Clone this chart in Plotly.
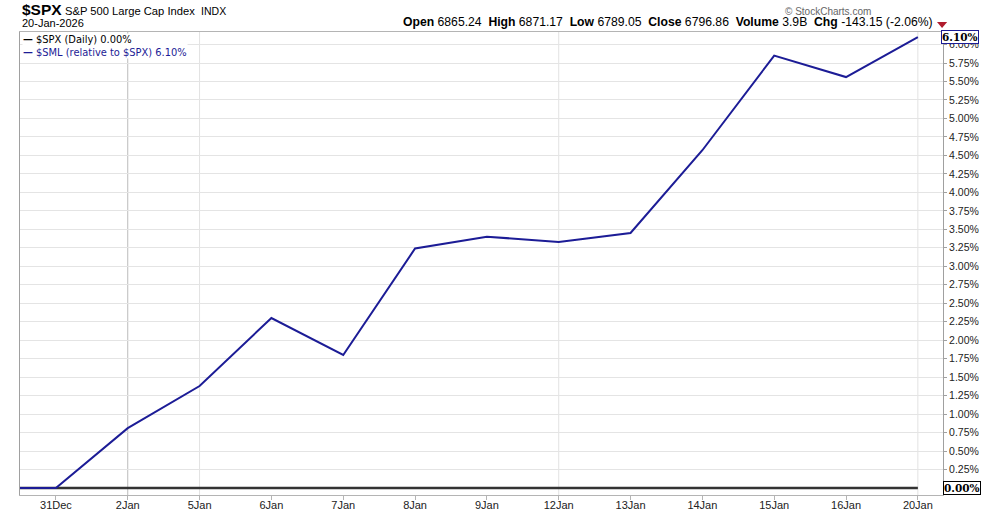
import plotly.graph_objects as go

# ---- data ----
dates = ["30Dec", "31Dec", "2Jan", "5Jan", "6Jan", "7Jan", "8Jan", "9Jan",
         "12Jan", "13Jan", "14Jan", "15Jan", "16Jan", "20Jan"]
spx_rel = [0.00] * 14
sml_rel = [0.00, 0.00, 0.81, 1.38, 2.30, 1.80, 3.24, 3.40, 3.33, 3.45, 4.57, 5.85, 5.56, 6.10]
tick_labels = dates[1:]
week_starts = ["2Jan", "5Jan", "12Jan", "20Jan"]
y_ticks = [i * 0.25 for i in range(1, 25)]

xi = list(range(len(dates)))
idx = {d: i for i, d in enumerate(dates)}

FONT = "Liberation Sans, Arial, sans-serif"
VFONT = "DejaVu Sans, Verdana, sans-serif"
NAVY = "#1c1c96"

T, B = 32, 18
PH = 513 - T - B


def py(pix):
    """paper y coordinate for a pixel row (header placement)."""
    return 1 + (T - pix) / PH


fig = go.Figure()
fig.add_trace(go.Scatter(x=xi, y=spx_rel, mode="lines",
                         line=dict(color="#333333", width=2.5), hoverinfo="skip"))
fig.add_trace(go.Scatter(x=xi, y=sml_rel, mode="lines",
                         line=dict(color=NAVY, width=2), hoverinfo="skip"))

shapes = []
for d in week_starts:
    shapes.append(dict(type="line", xref="x", yref="paper", x0=idx[d], x1=idx[d], y0=0, y1=1,
                       line=dict(color="#bcbcbc" if d == "2Jan" else "#e2e2e2", width=1),
                       layer="below"))
# red down triangle in header
shapes.append(dict(type="path", xref="paper", yref="paper",
                   path=f"M 0.9935 {py(22)} L 1.0045 {py(22)} L 0.999 {py(28)} Z",
                   fillcolor="#b01c2e", line=dict(width=0)))

annotations = [
    dict(xref="paper", yref="paper", x=-0.0005, y=py(20), xanchor="left", yanchor="bottom",
         showarrow=False, align="left",
         text=("<b><span style='font-size:15.5px'>$SPX</span></b> "
               "<span style='font-size:11.2px'>S&P 500 Large Cap Index</span> "
               "<span style='font-size:10.5px'>&nbsp;INDX</span>"),
         font=dict(family=FONT, color="#000000")),
    dict(xref="paper", yref="paper", x=-0.0005, y=py(31), xanchor="left", yanchor="bottom",
         showarrow=False, text="20-Jan-2026", font=dict(family=FONT, size=11, color="#000")),
    dict(xref="paper", yref="paper", x=0.924, y=py(19), xanchor="right", yanchor="bottom",
         showarrow=False, text="© StockCharts.com", font=dict(family=FONT, size=10, color="#666")),
    dict(xref="paper", yref="paper", x=0.991, y=py(31), xanchor="right", yanchor="bottom",
         showarrow=False,
         text=("<b>Open</b> 6865.24  <b>High</b> 6871.17  <b>Low</b> 6789.05  "
               "<b>Close</b> 6796.86  <b>Volume</b> 3.9B  <b>Chg</b> -143.15 (-2.06%)"),
         font=dict(family=FONT, size=12.2, color="#000")),
    # legend
    dict(xref="paper", yref="paper", x=0.002, y=0.998, xanchor="left", yanchor="top",
         showarrow=False, align="left", bgcolor="white", borderpad=0,
         text=("<span style='color:#000'><b>—</b> $SPX (Daily) 0.00%</span><br>"
               f"<span style='color:{NAVY}'><b>—</b> $SML (relative to $SPX) 6.10%</span>"),
         font=dict(family=VFONT, size=9.9)),
    # value callouts on right axis
    dict(xref="paper", yref="y", x=1.0, y=sml_rel[-1], xanchor="left", yanchor="middle",
         xshift=-2, showarrow=False, text=f"<b>{sml_rel[-1]:.2f}%</b>",
         bgcolor="white", bordercolor=NAVY, borderwidth=1, borderpad=0,
         font=dict(family="DejaVu Serif, serif", size=10.5, color="#000")),
    dict(xref="paper", yref="y", x=1.0, y=spx_rel[-1], xanchor="left", yanchor="middle",
         xshift=0, showarrow=False, text=f"<b>{spx_rel[-1]:.2f}%</b>",
         bgcolor="white", bordercolor="#000", borderwidth=1, borderpad=0,
         font=dict(family="DejaVu Serif, serif", size=10.5, color="#000")),
]

fig.update_layout(
    width=1000, height=513,
    margin=dict(l=20, r=57, t=T, b=B, autoexpand=False),
    paper_bgcolor="white", plot_bgcolor="white",
    showlegend=False,
    shapes=shapes, annotations=annotations,
    xaxis=dict(range=[0.5, 13.35], tickmode="array", automargin=False,
               tickvals=[idx[d] for d in tick_labels], ticktext=tick_labels,
               showgrid=False, zeroline=False, showline=True, mirror=True,
               linecolor="#b4b4b4", linewidth=1, ticks="outside", ticklen=4,
               ticklabelstandoff=-4,
               tickcolor="#b4b4b4", tickfont=dict(family=FONT, size=11, color="#222")),
    yaxis=dict(side="right", range=[-0.095, 6.17], tickmode="array", automargin=False,
               tickvals=y_ticks, ticktext=[f"{v:.2f}%" for v in y_ticks],
               showgrid=True, gridcolor="#e4e4e4", gridwidth=1, zeroline=False,
               showline=True, mirror=True, linecolor="#a0a0a0", linewidth=1,
               ticks="outside", ticklen=3, tickcolor="#a0a0a0",
               tickfont=dict(family=FONT, size=10.5, color="#222")),
)

fig.write_html("out.html", config={"displayModeBar": False},
               post_script="document.body.style.margin='0px';document.body.style.overflow='hidden';")
